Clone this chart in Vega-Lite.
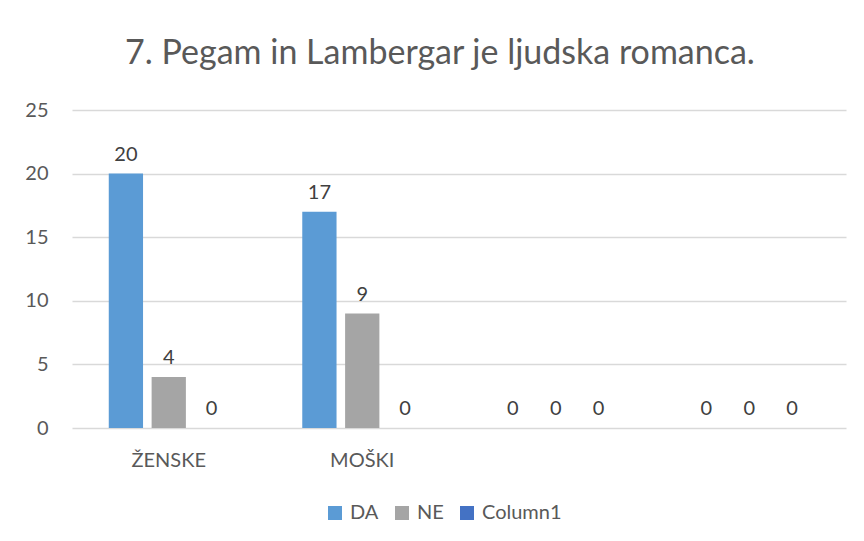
{
  "$schema": "https://vega.github.io/schema/vega-lite/v6.json",
  "autosize": "none",
  "width": 774,
  "height": 318,
  "padding": {"left": 72, "top": 110, "right": 18, "bottom": 113},
  "background": "white",
  "title": {
    "text": "7. Pegam in Lambergar je ljudska romanca.",
    "fontSize": 34,
    "font": "Lato",
    "fontWeight": "normal",
    "color": "#595959",
    "anchor": "middle",
    "dx": -19,
    "baseline": "alphabetic",
    "offset": 2
  },
  "data": {
    "values": [
      {"kategorija": "ŽENSKE", "serija": "DA", "vrednost": 20},
      {"kategorija": "ŽENSKE", "serija": "NE", "vrednost": 4},
      {"kategorija": "ŽENSKE", "serija": "Column1", "vrednost": 0},
      {"kategorija": "MOŠKI", "serija": "DA", "vrednost": 17},
      {"kategorija": "MOŠKI", "serija": "NE", "vrednost": 9},
      {"kategorija": "MOŠKI", "serija": "Column1", "vrednost": 0},
      {"kategorija": "k3", "serija": "DA", "vrednost": 0},
      {"kategorija": "k3", "serija": "NE", "vrednost": 0},
      {"kategorija": "k3", "serija": "Column1", "vrednost": 0},
      {"kategorija": "k4", "serija": "DA", "vrednost": 0},
      {"kategorija": "k4", "serija": "NE", "vrednost": 0},
      {"kategorija": "k4", "serija": "Column1", "vrednost": 0}
    ]
  },
  "encoding": {
    "x": {
      "field": "kategorija",
      "type": "nominal",
      "sort": ["ŽENSKE", "MOŠKI", "k3", "k4"],
      "scale": {"paddingInner": 0.38, "paddingOuter": 0.19},
      "axis": {
        "title": null,
        "labelAngle": 0,
        "domain": false,
        "ticks": false,
        "labelPadding": 22,
        "labelFont": "Lato",
        "labelFontSize": 20,
        "labelColor": "#595959",
        "labelExpr": "datum.label == 'k3' || datum.label == 'k4' ? '' : datum.label"
      }
    },
    "xOffset": {
      "field": "serija",
      "type": "nominal",
      "sort": ["DA", "NE", "Column1"],
      "scale": {"paddingInner": 0.2}
    },
    "y": {
      "field": "vrednost",
      "type": "quantitative",
      "scale": {"domain": [0, 25]},
      "axis": {
        "title": null,
        "values": [0, 5, 10, 15, 20, 25],
        "domain": false,
        "ticks": false,
        "labelPadding": 24,
        "labelFont": "Lato",
        "labelFontSize": 20,
        "labelColor": "#595959",
        "gridColor": "#D9D9D9",
        "gridWidth": 1.5
      }
    }
  },
  "layer": [
    {
      "mark": {"type": "bar"},
      "encoding": {
        "color": {
          "field": "serija",
          "type": "nominal",
          "sort": ["DA", "NE", "Column1"],
          "scale": {"domain": ["DA", "NE", "Column1"], "range": ["#5B9BD5", "#A5A5A5", "#4472C4"]},
          "legend": {
            "title": null,
            "orient": "none",
            "direction": "horizontal",
            "legendX": 253,
            "legendY": 393,
            "symbolType": "square",
            "symbolSize": 196,
            "symbolStrokeWidth": 0,
            "labelFont": "Lato",
            "labelFontSize": 20,
            "labelColor": "#595959",
            "columnPadding": 13,
            "labelOffset": 5
          }
        }
      }
    },
    {
      "mark": {"type": "text", "baseline": "alphabetic", "dy": -13, "font": "Lato", "fontSize": 20, "color": "#404040"},
      "encoding": {
        "text": {"field": "vrednost", "type": "quantitative"}
      }
    }
  ],
  "config": {
    "view": {"stroke": null}
  }
}
